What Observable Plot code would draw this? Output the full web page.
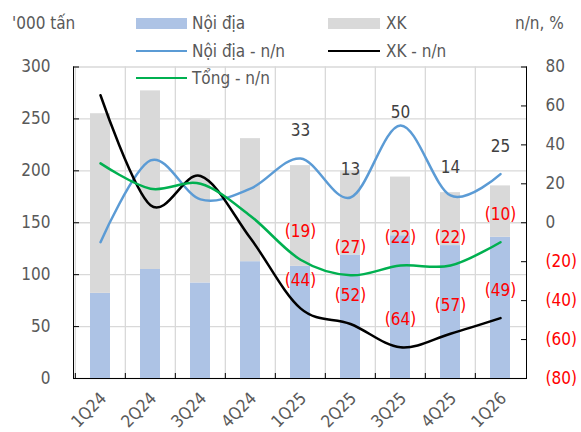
<!DOCTYPE html>
<html><head><meta charset="utf-8">
<script src="https://cdn.jsdelivr.net/npm/d3@7"></script>
<script src="https://cdn.jsdelivr.net/npm/@observablehq/plot@0.6"></script>
<style>
body{margin:0;background:#fff;}
#wrap{position:relative;width:581px;height:432px;font-family:"DejaVu Sans Condensed","DejaVu Sans",sans-serif;font-stretch:condensed;}
#wrap svg{position:absolute;left:0;top:0;}
.lg{position:absolute;font-size:17px;color:#595959;white-space:nowrap;line-height:20px;height:20px;}
.sw{position:absolute;}
</style></head>
<body><div id="wrap"></div>
<script>
const quarters = ["1Q24","2Q24","3Q24","4Q24","1Q25","2Q25","3Q25","4Q25","1Q26"];
const noiDia = [82, 105, 92, 112.5, 108, 119, 137.5, 128, 136];
const xuatKhau = [173, 172, 157, 118.5, 97, 81, 56.5, 51, 49.5];
const noiDiaYoY = [-10, 32, 12, 17.5, 33, 13, 50, 14, 25];
const xkYoY = [65.5, 9, 24, -8, -44, -52, -64, -57, -49];
const tongYoY = [30.5, 17.5, 20, 3.5, -19, -27, -22, -22, -10];
const leftTicks = [0, 50, 100, 150, 200, 250, 300];
const rightTicks = [-80, -60, -40, -20, 0, 20, 40, 60, 80];
const firstLabelled = 4;

const W = 581, H = 432, mL = 73, mR = 55, mT = 66.5, mB = 54;
const step = (W - mL - mR) / quarters.length;
const r2l = v => (v + 80) * 300 / 160;
const l2r = v => Math.round(v * 160 / 300 - 80);
const fmtR = v => v < 0 ? `(${Math.abs(v)})` : String(v);
const FONT = '"DejaVu Sans Condensed","DejaVu Sans",sans-serif';

const rows = quarters.map((q, i) => ({
  q, nd: noiDia[i], xk: xuatKhau[i], ndY: noiDiaYoY[i], xkY: xkYoY[i], tY: tongYoY[i], i
}));
const lab = rows.filter(d => d.i >= firstLabelled);

const plot = Plot.plot({
  width: W, height: H, marginLeft: mL, marginRight: mR, marginTop: mT, marginBottom: mB,
  style: {fontFamily: FONT, fontSize: "17px", color: "#595959", background: "transparent", fontStretch: "condensed"},
  x: {domain: quarters, paddingInner: 0.6, paddingOuter: 0.3, axis: null},
  y: {domain: [0, 300], axis: null},
  marks: [
    Plot.ruleY(leftTicks, {stroke: "#d9d9d9", strokeWidth: 1.3}),
    Plot.ruleX(quarters, {x: d => d, dx: -step / 2, stroke: "#d9d9d9", strokeWidth: 1.3}),
    Plot.barY(rows, {x: "q", y1: 0, y2: "nd", fill: "#adc3e5"}),
    Plot.barY(rows, {x: "q", y1: "nd", y2: d => d.nd + d.xk, fill: "#d9d9d9"}),
    Plot.line(rows, {x: "q", y: d => r2l(d.ndY), stroke: "#5b9bd5", strokeWidth: 2.5, curve: "cardinal"}),
    Plot.line(rows, {x: "q", y: d => r2l(d.xkY), stroke: "#000000", strokeWidth: 2.5, curve: "cardinal"}),
    Plot.line(rows, {x: "q", y: d => r2l(d.tY), stroke: "#00b050", strokeWidth: 2.5, curve: "cardinal"}),
    Plot.text(lab.filter(d => d.ndY < 40), {x: "q", y: d => r2l(d.ndY), text: d => fmtR(d.ndY), dy: -28, fill: "#404040", fontSize: 17}),
    Plot.text(lab.filter(d => d.ndY >= 40), {x: "q", y: d => r2l(d.ndY), text: d => fmtR(d.ndY), dy: -13, fill: "#404040", fontSize: 17}),
    Plot.text(lab, {x: "q", y: d => r2l(d.tY), text: d => fmtR(d.tY), dy: -28, fill: "#ff0000", fontSize: 17}),
    Plot.text(lab, {x: "q", y: d => r2l(d.xkY), text: d => fmtR(d.xkY), dy: -28, fill: "#ff0000", fontSize: 17}),
    Plot.frame({anchor: "left", stroke: "#000"}),
    Plot.frame({anchor: "right", stroke: "#000"}),
    Plot.frame({anchor: "bottom", stroke: "#000"}),
    Plot.axisY({anchor: "left", ticks: leftTicks, tickSize: 0, tickPadding: 23, label: null, fill: "#595959", fontSize: 17}),
    Plot.axisY({anchor: "left", ticks: leftTicks, tickSize: -6, tickFormat: () => "", label: null, stroke: "#000"}),
    Plot.axisY({anchor: "right", ticks: rightTicks.filter(v => v >= 0).map(r2l), tickSize: 0, tickPadding: 19, tickFormat: v => fmtR(l2r(v)), label: null, fill: "#595959", fontSize: 17}),
    Plot.axisY({anchor: "right", ticks: rightTicks.filter(v => v < 0).map(r2l), tickSize: 0, tickPadding: 19, tickFormat: v => fmtR(l2r(v)), label: null, fill: "#ff0000", fontSize: 17}),
    Plot.axisY({anchor: "right", ticks: rightTicks.map(r2l), tickSize: -6, tickFormat: () => "", label: null, stroke: "#000"}),
    Plot.axisX({anchor: "bottom", tickSize: -5, dx: -step / 2, tickFormat: () => "", label: null, stroke: "#000"}),
    Plot.axisX({anchor: "bottom", tickSize: 0, tickPadding: 17, dx: 3, tickRotate: -45, label: null, fill: "#595959", fontSize: 17})
  ]
});

const wrap = document.getElementById("wrap");
wrap.appendChild(plot);

const legend = [
  {t: "'000 tấn", x: 12, y: 23},
  {t: "Nội địa", x: 192, y: 23, sw: {x: 136, y: 18, w: 51, h: 11, c: "#adc3e5"}},
  {t: "XK", x: 386, y: 23, sw: {x: 328, y: 18, w: 52, h: 11, c: "#d9d9d9"}},
  {t: "n/n, %", x: 515, y: 23},
  {t: "Nội địa - n/n", x: 192, y: 51, sw: {x: 136, y: 49.5, w: 51, h: 2.5, c: "#5b9bd5"}},
  {t: "XK - n/n", x: 386, y: 51, sw: {x: 328, y: 49.5, w: 52, h: 2.5, c: "#000000"}},
  {t: "Tổng - n/n", x: 192, y: 78, sw: {x: 136, y: 76.5, w: 51, h: 2.5, c: "#00b050"}}
];
for (const l of legend) {
  if (l.sw) {
    const s = document.createElement("div");
    s.className = "sw";
    Object.assign(s.style, {left: l.sw.x + "px", top: l.sw.y + "px", width: l.sw.w + "px", height: l.sw.h + "px", background: l.sw.c});
    wrap.appendChild(s);
  }
  const d = document.createElement("div");
  d.className = "lg";
  d.textContent = l.t;
  d.style.left = l.x + "px";
  d.style.top = (l.y - 10) + "px";
  wrap.appendChild(d);
}
</script>
</body></html>
